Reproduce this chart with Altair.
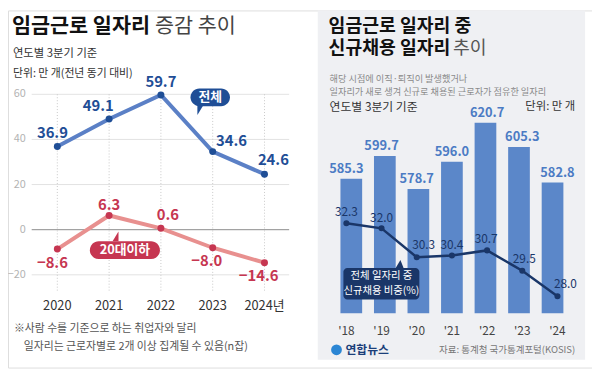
import altair as alt
import pandas as pd

# ---------------- data ----------------
years_left = [2020, 2021, 2022, 2023, 2024]
year_labels_left = ["2020", "2021", "2022", "2023", "2024년"]
total_change = [36.9, 49.1, 59.7, 34.6, 24.6]
youth_change = [-8.6, 6.3, 0.6, -8.0, -14.6]
left_ticks = [60, 40, 20, 0, -20]

years_right = [2018, 2019, 2020, 2021, 2022, 2023, 2024]
year_labels_right = ["'18", "'19", "'20", "'21", "'22", "'23", "'24"]
new_hires = [585.3, 599.7, 578.7, 596.0, 620.7, 605.3, 582.8]
new_hire_share = [32.3, 32.0, 30.3, 30.4, 30.7, 29.5, 28.0]

# ---------------- styling ----------------
OFF = 8
FONT = "Noto Sans CJK KR"
BLUE_LINE = "#5b80c6"
BLUE_DARK = "#1f4e96"
RED_LINE = "#e8908f"
RED_DARK = "#c63651"
BAR = "#5b87c9"
BAR_LABEL = "#4b7bc4"
NAVY = "#1a3668"

# label offsets (styling, not data)
total_off = [(-5, -14), (-11, -13), (0, -13), (19, -11), (9, -14)]
youth_off = [(-5, 14), (0, -11), (7, -13), (-6, 14), (-6, 14)]
share_off = [(0, -11), (0, -10), (7, -12), (0, -11), (-1, -12), (2, -12), (8, -12)]

xL = alt.Scale(domain=[2020, 2024], range=[58 - OFF, 268 - OFF])
yL = alt.Scale(domain=[-20, 60], range=[276 - OFF, 93 - OFF])
xR = alt.Scale(domain=[2018, 2024], range=[351 - OFF, 565 - OFF])
yRb = alt.Scale(domain=[500, 640], range=[315 - OFF, 91 - OFF])
yRl = alt.Scale(domain=[27, 40], range=[315 - OFF, 91 - OFF])

one = pd.DataFrame({"k": [0]})


def txt(s, x, y, size, color, weight="normal", align="left"):
    return alt.Chart(pd.DataFrame({"t": [s]})).mark_text(
        font=FONT, fontSize=size, color=color, fontWeight=weight,
        align=align, baseline="middle"
    ).encode(text="t:N", x=alt.value(x - OFF), y=alt.value(y - OFF))


def rect(x1, x2, y1, y2, color, r=0):
    return alt.Chart(one).mark_rect(color=color, cornerRadius=r).encode(
        x=alt.value(x1 - OFF), x2=alt.value(x2 - OFF),
        y=alt.value(y1 - OFF), y2=alt.value(y2 - OFF))


def tri(x, y, size, path, color):
    return alt.Chart(one).mark_point(shape=path, filled=True, size=size,
                                     color=color, opacity=1).encode(
        x=alt.value(x - OFF), y=alt.value(y - OFF))


layers = []

# right panel background
layers.append(rect(322, 593, 8, 362, "#eff0f3"))

# ---------------- left panel ----------------
layers.append(txt("임금근로 일자리", 12, 25, 21, "#111", "bold"))
layers.append(txt("증감 추이", 157, 25, 21, "#444"))
layers.append(txt("연도별 3분기 기준", 13, 52, 11.5, "#333"))
layers.append(txt("단위: 만 개(전년 동기 대비)", 13, 72, 11, "#333"))

dfL = pd.DataFrame({"year": years_left, "label": year_labels_left,
                    "total": total_change, "youth": youth_change})
dfT = pd.DataFrame({"v": left_ticks})

layers.append(alt.Chart(dfT).mark_rule(strokeWidth=1).encode(
    y=alt.Y("v:Q", scale=yL, axis=None),
    x=alt.value(32 - OFF), x2=alt.value(293 - OFF),
    color=alt.condition(alt.datum.v == 0, alt.value("#8a8a8a"), alt.value("#e2e2e2"))))
layers.append(alt.Chart(dfT).mark_text(font=FONT, fontSize=11, color="#b3b3b3",
                                       align="right", baseline="middle").encode(
    y=alt.Y("v:Q", scale=yL, axis=None), x=alt.value(26 - OFF), text="v:Q"))
layers.append(alt.Chart(dfL).mark_rule(strokeDash=[1, 2], color="#c8c8c8", strokeWidth=1).encode(
    x=alt.X("year:Q", scale=xL, axis=None),
    y=alt.value(93 - OFF), y2=alt.value(294 - OFF)))

for col, lc, pc in [("total", BLUE_LINE, BLUE_DARK), ("youth", RED_LINE, RED_DARK)]:
    layers.append(alt.Chart(dfL).mark_line(color=lc, strokeWidth=4).encode(
        x=alt.X("year:Q", scale=xL, axis=None), y=alt.Y(f"{col}:Q", scale=yL, axis=None)))
    layers.append(alt.Chart(dfL).mark_circle(color=pc, size=50, opacity=1).encode(
        x=alt.X("year:Q", scale=xL, axis=None), y=alt.Y(f"{col}:Q", scale=yL, axis=None)))

for i in range(len(years_left)):
    for col, offs, c in [("total", total_off, BLUE_DARK), ("youth", youth_off, RED_DARK)]:
        dx, dy = offs[i]
        layers.append(alt.Chart(dfL.iloc[[i]]).mark_text(
            font=FONT, fontSize=15, fontWeight="bold", color=c,
            dx=dx, dy=dy, baseline="middle").encode(
            x=alt.X("year:Q", scale=xL, axis=None),
            y=alt.Y(f"{col}:Q", scale=yL, axis=None),
            text=alt.Text(f"{col}:Q", format=".1f")))

layers.append(alt.Chart(dfL).mark_text(font=FONT, fontSize=13, color="#333",
                                       baseline="middle").encode(
    x=alt.X("year:Q", scale=xL, axis=None), y=alt.value(308 - OFF), text="label:N"))

# bubbles
layers.append(rect(193, 233, 87, 105, BLUE_DARK, 9))
layers.append(tri(202, 109, 100, "M-0.4,-1L0.8,-1L-0.4,1Z", BLUE_DARK))
layers.append(txt("전체", 213, 96, 13, "white", "bold", "center"))
layers.append(rect(91, 162, 242, 260, RED_DARK, 9))
layers.append(tri(117, 237, 100, "M-0.6,1L0.6,1L0.6,-1Z", RED_DARK))
layers.append(txt("20대이하", 126.5, 251, 13, "white", "bold", "center"))

layers.append(txt("※사람 수를 기준으로 하는 취업자와 달리", 14, 331, 11, "#555"))
layers.append(txt("일자리는 근로자별로 2개 이상 집계될 수 있음(n잡)", 24, 349, 11, "#555"))

# ---------------- right panel ----------------
layers.append(txt("임금근로 일자리 중", 333, 24, 18.5, "#111", "bold"))
layers.append(txt("신규채용 일자리", 333, 46, 18.5, "#111", "bold"))
layers.append(txt("추이", 459, 46, 18.5, "#555"))
layers.append(txt("해당 시점에 이직·퇴직이 발생했거나", 334, 78, 9.3, "#8a8a8a"))
layers.append(txt("일자리가 새로 생겨 신규로 채용된 근로자가 점유한 일자리", 334, 91, 9.3, "#8a8a8a"))
layers.append(txt("연도별 3분기 기준", 334, 106, 12, "#333"))
layers.append(txt("단위: 만 개", 583, 106, 11.5, "#333", align="right"))

dfR = pd.DataFrame({"yr": years_right, "label": year_labels_right,
                    "jobs": new_hires, "share": new_hire_share})

layers.append(alt.Chart(dfR).mark_bar(size=22, color=BAR).encode(
    x=alt.X("yr:Q", scale=xR, axis=None),
    y=alt.Y("jobs:Q", scale=yRb, axis=None), y2=alt.datum(500)))
layers.append(alt.Chart(dfR).mark_text(font=FONT, fontSize=13, fontWeight="bold",
                                       color=BAR_LABEL, dy=-10, baseline="middle").encode(
    x=alt.X("yr:Q", scale=xR, axis=None),
    y=alt.Y("jobs:Q", scale=yRb, axis=None),
    text=alt.Text("jobs:Q", format=".1f")))
layers.append(alt.Chart(dfR).mark_line(color=NAVY, strokeWidth=2.5).encode(
    x=alt.X("yr:Q", scale=xR, axis=None), y=alt.Y("share:Q", scale=yRl, axis=None)))
layers.append(alt.Chart(dfR).mark_circle(color=NAVY, size=38, opacity=1).encode(
    x=alt.X("yr:Q", scale=xR, axis=None), y=alt.Y("share:Q", scale=yRl, axis=None)))
for i in range(len(years_right)):
    dx, dy = share_off[i]
    layers.append(alt.Chart(dfR.iloc[[i]]).mark_text(
        font=FONT, fontSize=12, color=NAVY, dx=dx, dy=dy, baseline="middle").encode(
        x=alt.X("yr:Q", scale=xR, axis=None),
        y=alt.Y("share:Q", scale=yRl, axis=None),
        text=alt.Text("share:Q", format=".1f")))

layers.append(alt.Chart(dfR).mark_text(font=FONT, fontSize=12, color="#444",
                                       baseline="middle").encode(
    x=alt.X("yr:Q", scale=xR, axis=None), y=alt.value(333 - OFF), text="label:N"))

layers.append(rect(348, 425, 269, 301, NAVY, 4))
layers.append(tri(405, 265, 64, "M-1,1L1,1L0.2,-1Z", NAVY))
layers.append(txt("전체 일자리 중", 386.5, 277.5, 10.5, "white", align="center"))
layers.append(txt("신규채용 비중(%)", 386.5, 292, 10.5, "white", align="center"))

# footer
layers.append(alt.Chart(one).mark_circle(color="#2b86d4", size=120, opacity=1).encode(
    x=alt.value(341 - OFF), y=alt.value(352 - OFF)))
layers.append(txt("연합뉴스", 350, 352, 12, "#1b3f7a", "bold"))
layers.append(txt("자료: 통계청 국가통계포털(KOSIS)", 583, 352, 9.6, "#777", align="right"))

chart = alt.layer(*layers).resolve_scale(
    x="independent", y="independent"
).properties(
    width=592, height=362, autosize=alt.AutoSizeParams(type="none"), padding=0
).configure_view(strokeWidth=0).configure(background="white")

chart.save("out.html", embed_options={"renderer": "svg", "actions": False})
